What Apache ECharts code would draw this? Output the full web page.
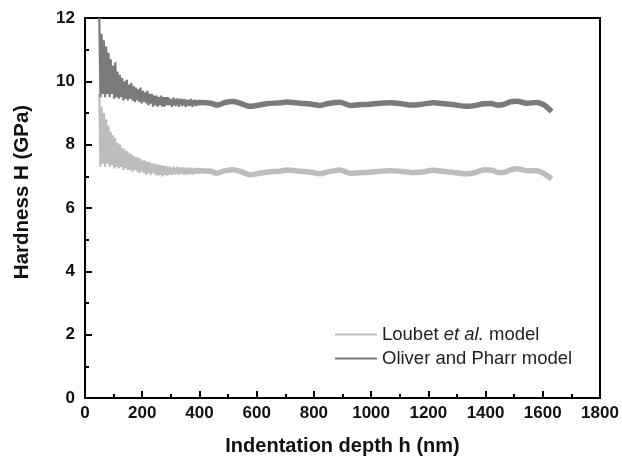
<!DOCTYPE html>
<html><head><meta charset="utf-8">
<script src="https://cdn.jsdelivr.net/npm/echarts@6/dist/echarts.min.js"></script>
<style>html,body{margin:0;padding:0;background:#fff}#c{width:622px;height:460px}</style>
</head><body><div id="c"></div>
<script>
// Oliver and Pharr model — noisy start (depth nm, hardness GPa)
const opNoisyH = [50,54,58,62,66,70,74,78,82,86,90,94,98,102,106,110,114,118,122,126,130,134,138,142,146,150,154,158,162,166,170,174,178,182,186,190,194,198,202,206,210,214,218,222,226,230,234,238,242,246,250,254,258,262,266,270,274,278,282,286,290,294,298,304,310,316,322,328,334,340,346,352,358,364,370,376,382,388,394,400];
const opNoisyV = [12.0,9.5,11.5,9.6,11.3,9.5,11.1,9.6,10.9,9.5,10.7,9.6,10.5,9.45,10.6,9.5,10.3,9.45,10.2,9.5,10.1,9.4,10.0,9.45,10.05,9.4,9.9,9.45,9.95,9.4,9.85,9.35,9.8,9.4,9.75,9.35,9.8,9.3,9.7,9.35,9.65,9.3,9.7,9.25,9.6,9.3,9.6,9.2,9.55,9.25,9.55,9.2,9.5,9.25,9.55,9.2,9.5,9.2,9.5,9.25,9.5,9.25,9.45,9.2,9.48,9.22,9.46,9.2,9.45,9.22,9.44,9.2,9.42,9.22,9.44,9.2,9.42,9.22,9.4,9.24];
// Oliver and Pharr model — smooth part
const opH = [260,300,332,360,400,440,461,490,517,545,577,600,640,680,706,740,770,797,821,850,891,926,960,996,1031,1066,1100,1147,1180,1217,1250,1290,1334,1365,1392,1420,1439,1462,1486,1510,1544,1579,1602,1615,1631];
const opV = [9.35,9.34,9.35,9.32,9.33,9.31,9.25,9.33,9.36,9.3,9.21,9.24,9.3,9.32,9.35,9.32,9.3,9.27,9.24,9.3,9.34,9.24,9.26,9.28,9.31,9.32,9.3,9.25,9.28,9.32,9.3,9.26,9.21,9.24,9.29,9.3,9.25,9.27,9.35,9.37,9.31,9.33,9.27,9.18,9.05];
// Loubet et al. model — noisy start
const lbNoisyH = opNoisyH;
const lbNoisyV = [9.6,7.3,9.2,7.4,9.0,7.3,8.8,7.4,8.6,7.3,8.4,7.35,8.3,7.25,8.2,7.3,8.05,7.25,8.0,7.3,7.9,7.2,7.85,7.25,7.8,7.2,7.75,7.2,7.7,7.15,7.65,7.2,7.6,7.15,7.6,7.1,7.55,7.15,7.5,7.1,7.5,7.05,7.45,7.1,7.45,7.05,7.4,7.1,7.4,7.05,7.38,7.02,7.36,7.05,7.35,7.0,7.34,7.05,7.32,7.02,7.3,7.05,7.3,7.05,7.3,7.06,7.3,7.05,7.28,7.07,7.28,7.05,7.27,7.07,7.27,7.06,7.26,7.08,7.26,7.08];
// Loubet et al. model — smooth part
const lbH = opH;
const lbV = [7.2,7.18,7.19,7.16,7.18,7.16,7.1,7.18,7.21,7.15,7.05,7.08,7.14,7.16,7.2,7.17,7.15,7.12,7.08,7.14,7.2,7.1,7.11,7.13,7.16,7.18,7.16,7.12,7.14,7.19,7.16,7.12,7.08,7.12,7.2,7.2,7.13,7.12,7.2,7.24,7.18,7.18,7.1,7.02,6.92];

const xTicks = [0,200,400,600,800,1000,1200,1400,1600,1800];
const yTicks = [0,2,4,6,8,10,12];
const seriesNames = ['Loubet et al. model','Oliver and Pharr model'];

const zip = (a,b)=>a.map((x,i)=>[x,b[i]]);
const LIGHT = '#bdbdbd', DARK = '#7a7a7a';
const FONT = '"Liberation Sans", Arial, sans-serif';

const chart = echarts.init(document.getElementById('c'), null, {renderer:'canvas'});
chart.setOption({
  animation:false,
  backgroundColor:'#fff',
  grid:{left:85,right:22,top:18,bottom:62,containLabel:false,outerBoundsMode:'none',show:true,borderColor:'#000',borderWidth:2,backgroundColor:'transparent'},
  xAxis:{type:'value',min:xTicks[0],max:xTicks[xTicks.length-1],interval:200,
    name:'Indentation depth h (nm)',nameLocation:'middle',nameGap:38,
    nameTextStyle:{fontFamily:FONT,fontWeight:'bold',fontSize:20,color:'#111'},
    axisLine:{lineStyle:{color:'#000',width:2}},
    axisTick:{inside:true,length:7,lineStyle:{color:'#000',width:2}},
    minorTick:{show:true,splitNumber:2,length:4,lineStyle:{color:'#000',width:2}},
    axisLabel:{margin:7,fontFamily:FONT,fontWeight:'bold',fontSize:17,color:'#111',formatter:v=>String(v)},
    splitLine:{show:false}},
  yAxis:{type:'value',min:yTicks[0],max:yTicks[yTicks.length-1],interval:2,
    name:'Hardness H (GPa)',nameLocation:'middle',nameGap:52,
    nameTextStyle:{fontFamily:FONT,fontWeight:'bold',fontSize:20.5,color:'#111',padding:[0,0,0,32]},
    axisLine:{lineStyle:{color:'#000',width:2}},
    axisTick:{inside:true,length:7,lineStyle:{color:'#000',width:2}},
    minorTick:{show:true,splitNumber:2,length:4,lineStyle:{color:'#000',width:2}},
    axisLabel:{margin:10,fontFamily:FONT,fontWeight:'bold',fontSize:17,color:'#111',formatter:v=>String(v)},
    splitLine:{show:false}},
  legend:{orient:'vertical',left:335,top:325,padding:0,itemWidth:42,itemHeight:2,itemGap:5,icon:'rect',
    data:seriesNames,
    formatter:n=> n===seriesNames[0] ? '{n|Loubet }{i|et al.}{n| model}' : '{n|'+n+'}',
    textStyle:{fontFamily:FONT,fontSize:18.5,color:'#222',
      rich:{n:{fontFamily:FONT,fontSize:18.5,color:'#222'},i:{fontFamily:FONT,fontSize:18.5,fontStyle:'italic',color:'#222'}}}},
  series:[
    {name:seriesNames[0],type:'line',data:zip(lbNoisyH,lbNoisyV),showSymbol:false,lineStyle:{color:LIGHT,width:2.2},itemStyle:{color:LIGHT}},
    {name:seriesNames[0],type:'line',data:zip(lbH,lbV),showSymbol:false,smooth:0.3,lineStyle:{color:LIGHT,width:5.5},itemStyle:{color:LIGHT}},
    {name:seriesNames[1],type:'line',data:zip(opNoisyH,opNoisyV),showSymbol:false,lineStyle:{color:DARK,width:2.2},itemStyle:{color:DARK}},
    {name:seriesNames[1],type:'line',data:zip(opH,opV),showSymbol:false,smooth:0.3,lineStyle:{color:DARK,width:5.5},itemStyle:{color:DARK}}
  ]
});
</script></body></html>
